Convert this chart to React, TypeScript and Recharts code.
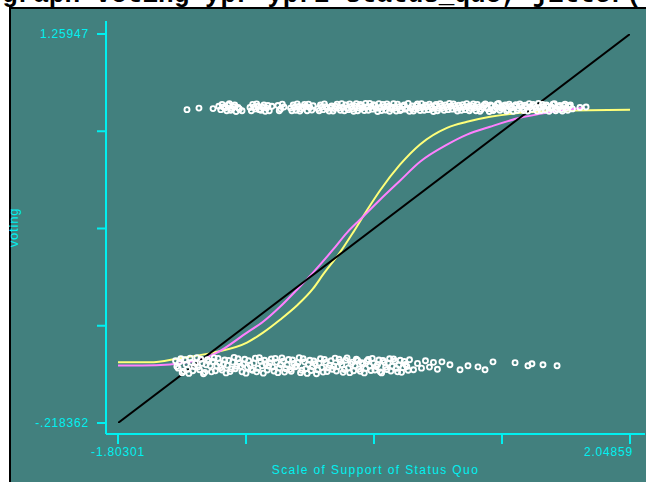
import { ComposedChart, Line, Scatter, XAxis, YAxis } from "recharts";

const TEAL = "#42807e";
const CYAN = "#00f0f0";

// axis ticks (only the end ticks carry a label)
const xTicks = [-1.80301, -0.84011, 0.12279, 1.08569, 2.04859];
const xTickLabels = ["-1.80301", "", "", "", "2.04859"];
const yTicks = [-0.218362, 0.151096, 0.520554, 0.890012, 1.25947];
const yTickLabels = ["-.218362", "", "", "", "1.25947"];

// jittered observations, voting = 1
const votedYes: [number, number][] = [
  [-1.284, 0.972], [-1.194, 0.978], [-1.088, 0.976], [-1.045, 0.985], [-1.03, 0.972], [-1.02, 0.992],
  [-1.01, 0.982], [-0.998, 0.978], [-0.985, 0.968], [-0.975, 0.99], [-0.965, 0.995], [-0.955, 0.97],
  [-0.945, 0.976], [-0.935, 0.983], [-0.925, 0.99], [-0.915, 0.965], [-0.9, 0.98], [-0.89, 0.975],
  [-0.87, 0.968], [-0.81, 0.98], [-0.8, 0.968], [-0.79, 0.992], [-0.78, 0.982], [-0.77, 0.975],
  [-0.76, 0.994], [-0.75, 0.985], [-0.74, 0.972], [-0.728, 0.97], [-0.715, 0.981], [-0.705, 0.99],
  [-0.695, 0.966], [-0.685, 0.978], [-0.675, 0.988], [-0.665, 0.968], [-0.645, 0.985], [-0.6, 0.988],
  [-0.59, 0.968], [-0.58, 0.975], [-0.567, 0.993], [-0.555, 0.982], [-0.505, 0.978], [-0.495, 0.968],
  [-0.485, 0.99], [-0.475, 0.981], [-0.465, 0.97], [-0.455, 0.994], [-0.445, 0.984], [-0.435, 0.967],
  [-0.425, 0.975], [-0.41, 0.98], [-0.4, 0.992], [-0.39, 0.985], [-0.38, 0.968], [-0.37, 0.993],
  [-0.36, 0.98], [-0.345, 0.971], [-0.335, 0.987], [-0.3, 0.976], [-0.29, 0.968], [-0.28, 0.99],
  [-0.27, 0.982], [-0.26, 0.972], [-0.25, 0.994], [-0.24, 0.983], [-0.228, 0.976], [-0.215, 0.967],
  [-0.205, 0.98], [-0.195, 0.986], [-0.185, 0.967], [-0.175, 0.976], [-0.165, 0.985], [-0.155, 0.993],
  [-0.14, 0.979], [-0.13, 0.97], [-0.12, 0.995], [-0.11, 0.981], [-0.1, 0.968], [-0.09, 0.99],
  [-0.08, 0.978], [-0.07, 0.972], [-0.06, 0.994], [-0.05, 0.984], [-0.04, 0.975], [-0.03, 0.966],
  [-0.02, 0.986], [-0.01, 0.995], [0.0, 0.968], [0.01, 0.978], [0.02, 0.992], [0.03, 0.988],
  [0.04, 0.98], [0.05, 0.969], [0.06, 0.996], [0.07, 0.982], [0.08, 0.97], [0.09, 0.996],
  [0.1, 0.984], [0.11, 0.974], [0.12, 0.991], [0.13, 0.987], [0.14, 0.977], [0.15, 0.965],
  [0.16, 0.995], [0.17, 0.98], [0.18, 0.969], [0.19, 0.992], [0.2, 0.983], [0.21, 0.971],
  [0.22, 0.994], [0.23, 0.985], [0.24, 0.966], [0.25, 0.976], [0.26, 0.981], [0.27, 0.995],
  [0.28, 0.978], [0.29, 0.967], [0.3, 0.993], [0.31, 0.983], [0.32, 0.969], [0.33, 0.973],
  [0.34, 0.985], [0.35, 0.99], [0.36, 0.974], [0.37, 0.978], [0.38, 0.996], [0.39, 0.966],
  [0.4, 0.977], [0.41, 0.986], [0.42, 0.967], [0.43, 0.975], [0.44, 0.988], [0.45, 0.994],
  [0.46, 0.979], [0.47, 0.969], [0.48, 0.995], [0.49, 0.981], [0.5, 0.97], [0.51, 0.989],
  [0.52, 0.983], [0.53, 0.972], [0.54, 0.993], [0.55, 0.984], [0.56, 0.976], [0.57, 0.965],
  [0.58, 0.986], [0.59, 0.992], [0.6, 0.968], [0.61, 0.977], [0.62, 0.995], [0.63, 0.987],
  [0.64, 0.979], [0.65, 0.97], [0.66, 0.99], [0.67, 0.982], [0.68, 0.972], [0.69, 0.996],
  [0.7, 0.985], [0.71, 0.974], [0.72, 0.994], [0.73, 0.986], [0.74, 0.977], [0.75, 0.967],
  [0.76, 0.989], [0.77, 0.98], [0.78, 0.97], [0.79, 0.991], [0.8, 0.983], [0.81, 0.972],
  [0.82, 0.995], [0.83, 0.984], [0.84, 0.968], [0.85, 0.976], [0.86, 0.986], [0.87, 0.994],
  [0.88, 0.979], [0.89, 0.968], [0.9, 0.992], [0.91, 0.982], [0.92, 0.966], [0.93, 0.973],
  [0.94, 0.981], [0.95, 0.989], [0.96, 0.994], [0.97, 0.978], [0.98, 0.975], [0.99, 0.965],
  [1.0, 0.99], [1.01, 0.986], [1.02, 0.969], [1.03, 0.975], [1.04, 0.982], [1.05, 0.993],
  [1.06, 0.996], [1.07, 0.97], [1.08, 0.977], [1.09, 0.981], [1.1, 0.987], [1.11, 0.99],
  [1.12, 0.967], [1.13, 0.972], [1.14, 0.993], [1.15, 0.985], [1.16, 0.979], [1.17, 0.966],
  [1.18, 0.985], [1.19, 0.991], [1.2, 0.97], [1.21, 0.977], [1.22, 0.994], [1.23, 0.987],
  [1.24, 0.976], [1.25, 0.969], [1.26, 0.989], [1.27, 0.982], [1.28, 0.967], [1.29, 0.995],
  [1.3, 0.983], [1.31, 0.974], [1.32, 0.992], [1.33, 0.986], [1.34, 0.978], [1.35, 0.967],
  [1.36, 0.996], [1.37, 0.98], [1.38, 0.969], [1.39, 0.992], [1.4, 0.984], [1.41, 0.971],
  [1.42, 0.99], [1.43, 0.984], [1.44, 0.966], [1.45, 0.976], [1.46, 0.981], [1.47, 0.993],
  [1.48, 0.995], [1.49, 0.968], [1.5, 0.975], [1.51, 0.983], [1.52, 0.988], [1.53, 0.973],
  [1.54, 0.967], [1.55, 0.988], [1.56, 0.993], [1.57, 0.978], [1.58, 0.97], [1.59, 0.985],
  [1.6, 0.99], [1.615, 0.975], [1.672, 0.98], [1.718, 0.982],
];

// jittered observations, voting = 0
const votedNo: [number, number][] = [
  [-1.37, 0.018], [-1.36, -0.004], [-1.35, -0.01], [-1.34, 0.014], [-1.33, 0.026], [-1.32, -0.027],
  [-1.31, -0.022], [-1.3, 0.022], [-1.29, 0.004], [-1.28, -0.014], [-1.27, -0.03], [-1.26, 0.028],
  [-1.25, 0.012], [-1.24, -0.02], [-1.23, -0.004], [-1.22, 0.008], [-1.21, 0.03], [-1.2, -0.006],
  [-1.19, -0.016], [-1.18, 0.024], [-1.17, 0.008], [-1.16, -0.031], [-1.15, -0.026], [-1.14, 0.003],
  [-1.13, 0.022], [-1.12, 0.016], [-1.11, -0.001], [-1.1, -0.024], [-1.09, 0.015], [-1.08, 0.029],
  [-1.07, -0.02], [-1.06, -0.002], [-1.05, 0.027], [-1.04, 0.01], [-1.03, -0.008], [-1.02, -0.017],
  [-1.01, 0.006], [-1.0, 0.021], [-0.99, -0.028], [-0.98, 0.001], [-0.97, 0.019], [-0.96, -0.023],
  [-0.95, -0.013], [-0.94, 0.013], [-0.93, 0.031], [-0.92, -0.012], [-0.91, -0.003], [-0.9, 0.026],
  [-0.89, 0.011], [-0.88, -0.003], [-0.87, -0.024], [-0.86, 0.006], [-0.85, 0.024], [-0.84, -0.029],
  [-0.83, -0.006], [-0.82, 0.018], [-0.81, 0.002], [-0.8, -0.015], [-0.79, -0.018], [-0.78, 0.009],
  [-0.77, 0.028], [-0.76, -0.024], [-0.75, -0.011], [-0.74, 0.03], [-0.73, 0.016], [-0.72, -0.001],
  [-0.71, -0.029], [-0.7, 0.02], [-0.69, 0.007], [-0.68, -0.017], [-0.67, -0.002], [-0.66, 0.011],
  [-0.65, 0.025], [-0.64, -0.006], [-0.63, -0.021], [-0.62, 0.027], [-0.61, 0.013], [-0.6, -0.027],
  [-0.59, -0.009], [-0.58, 0.004], [-0.57, 0.029], [-0.56, 0.016], [-0.55, -0.025], [-0.54, -0.012],
  [-0.53, 0.003], [-0.52, 0.023], [-0.51, -0.015], [-0.5, -0.022], [-0.49, 0.021], [-0.48, 0.008],
  [-0.47, -0.005], [-0.46, -0.002], [-0.45, 0.01], [-0.44, 0.03], [-0.43, -0.027], [-0.42, -0.018],
  [-0.41, 0.026], [-0.4, 0.014], [-0.39, -0.012], [-0.38, -0.03], [-0.37, 0.005], [-0.36, 0.02],
  [-0.35, -0.019], [-0.34, -0.005], [-0.33, 0.017], [-0.32, 0.007], [-0.31, -0.031], [-0.3, -0.016],
  [-0.29, 0.009], [-0.28, 0.026], [-0.27, -0.007], [-0.26, -0.025], [-0.25, 0.023], [-0.24, 0.012],
  [-0.23, -0.023], [-0.22, -0.009], [-0.21, 0.001], [-0.2, 0.018], [-0.19, -0.014], [-0.18, -0.003],
  [-0.17, 0.028], [-0.16, -0.021], [-0.15, -0.004], [-0.14, 0.024], [-0.13, 0.014], [-0.12, 0.003],
  [-0.11, -0.026], [-0.1, -0.015], [-0.09, 0.02], [-0.08, 0.029], [-0.07, -0.009], [-0.06, -0.027],
  [-0.05, 0.006], [-0.04, 0.013], [-0.03, -0.02], [-0.02, -0.001], [-0.01, 0.024], [0.0, 0.019],
  [0.01, -0.013], [0.02, -0.022], [0.03, 0.011], [0.04, 0.006], [0.05, -0.028], [0.06, -0.011],
  [0.07, 0.017], [0.08, 0.023], [0.09, -0.002], [0.1, -0.019], [0.11, 0.027], [0.12, 0.009],
  [0.13, -0.017], [0.14, -0.004], [0.15, 0.004], [0.16, 0.021], [0.17, -0.024], [0.18, -0.028],
  [0.19, 0.019], [0.2, 0.012], [0.21, -0.007], [0.22, -0.015], [0.23, 0.01], [0.24, 0.026],
  [0.25, -0.021], [0.26, -0.003], [0.27, 0.025], [0.28, 0.016], [0.29, -0.011], [0.3, -0.024],
  [0.31, 0.002], [0.32, 0.02], [0.33, -0.026], [0.34, -0.008], [0.35, 0.015], [0.36, 0.004],
  [0.37, -0.004], [0.38, -0.018], [0.39, 0.022], [0.42, -0.016], [0.45, 0.008], [0.48, -0.01],
  [0.51, 0.018], [0.54, -0.006], [0.57, 0.012], [0.6, -0.014], [0.634, 0.014], [0.694, 0.003],
  [0.77, -0.016], [0.83, -0.001], [0.905, -0.005], [0.958, -0.016], [1.018, 0.014], [1.184, 0.011],
  [1.281, -0.001], [1.311, 0.007], [1.394, 0.003], [1.5, -0.001],
];

// fitted curves
const linearFit: [number, number][] = [[-1.80301, -0.218362], [2.04859, 1.25947]];
const probitFit: [number, number][] = [
  [-1.80301, 0.012], [-1.562, 0.012], [-1.337, 0.028], [-1.088, 0.049], [-0.833, 0.087],
  [-0.712, 0.125], [-0.584, 0.174], [-0.457, 0.228], [-0.336, 0.292], [-0.261, 0.345],
  [-0.133, 0.43], [-0.035, 0.505], [0.07, 0.59], [0.168, 0.665], [0.318, 0.763],
  [0.469, 0.84], [0.672, 0.903], [0.822, 0.926], [0.996, 0.945], [1.221, 0.96],
  [1.522, 0.968], [2.04859, 0.972],
];
const lowessFit: [number, number][] = [
  [-1.80301, 0.0], [-1.62, 0.0], [-1.412, 0.004], [-1.164, 0.026], [-1.058, 0.049],
  [-0.833, 0.125], [-0.712, 0.166], [-0.584, 0.223], [-0.457, 0.288], [-0.336, 0.353],
  [-0.186, 0.44], [-0.08, 0.505], [0.017, 0.554], [0.168, 0.63], [0.318, 0.702],
  [0.469, 0.774], [0.672, 0.839], [0.822, 0.877], [0.996, 0.907], [1.221, 0.941],
  [1.371, 0.956], [1.522, 0.968], [1.71, 0.979],
];

const toPts = (a: [number, number][]) => a.map(([x, y]) => ({ x, y }));

const tickFont = { fill: CYAN, fontSize: 12, fontFamily: "Liberation Sans, Arial, sans-serif", letterSpacing: 0.8 };

function XTick(props: any) {
  const { x, y, index } = props;
  const label = xTickLabels[index] ?? "";
  if (!label) return null;
  const last = index === xTicks.length - 1;
  return (
    <text x={last ? x + 13 : x} y={y} dy="0.71em" textAnchor={last ? "end" : "middle"} {...tickFont}>
      {label}
    </text>
  );
}

function Hollow(props: any) {
  return <circle cx={props.cx} cy={props.cy} r={2.5} fill="none" stroke="#ffffff" strokeWidth={1.9} />;
}

export default function App() {
  return (
    <div style={{ position: "fixed", left: 0, top: 0, width: 646, height: 482, background: "#fff", overflow: "hidden" }}>
      <svg width={646} height={8} style={{ position: "absolute", left: 0, top: 0 }}>
        <text x={2} y={2} fontFamily="Liberation Mono, Courier New, monospace" fontWeight="bold" fontSize={26} fill="#000">
          graph voting ypr ypr2 status_quo, jitter(
        </text>
      </svg>
      <div
        style={{
          position: "absolute", left: 9, top: 7, width: 637, height: 475, boxSizing: "border-box",
          background: TEAL, borderLeft: "2px solid #000", borderTop: "2px solid #000",
        }}
      />
      <div style={{ position: "absolute", left: 0, top: 0 }}>
        <ComposedChart width={646} height={482} margin={{ top: 21, right: 1, bottom: 18, left: 10 }}>
          <XAxis
            type="number"
            dataKey="x"
            domain={[-1.80301, 2.04859]}
            ticks={xTicks}
            allowDataOverflow
            padding={{ left: 12, right: 15 }}
            height={30}
            tickSize={10}
            tickMargin={3}
            axisLine={{ stroke: CYAN, strokeWidth: 2 }}
            tickLine={{ stroke: CYAN, strokeWidth: 2 }}
            tick={<XTick />}
            label={{
              value: "Scale of Support of Status Quo", position: "insideBottom", offset: -10,
              ...tickFont, letterSpacing: 1.4,
            }}
          />
          <YAxis
            type="number"
            dataKey="y"
            domain={[-0.218362, 1.25947]}
            ticks={yTicks}
            allowDataOverflow
            padding={{ top: 13, bottom: 11 }}
            width={96}
            tickSize={9}
            tickMargin={8}
            axisLine={{ stroke: CYAN, strokeWidth: 2 }}
            tickLine={{ stroke: CYAN, strokeWidth: 2 }}
            tick={tickFont}
            tickFormatter={(v: number, i: number) => yTickLabels[i] ?? ""}
            label={{
              value: "voting", angle: -90, position: "insideLeft", offset: 3,
              style: { textAnchor: "middle" }, ...tickFont, fontSize: 13,
            }}
          />
          <Scatter data={toPts(votedYes)} dataKey="y" shape={<Hollow />} isAnimationActive={false} />
          <Scatter data={toPts(votedNo)} dataKey="y" shape={<Hollow />} isAnimationActive={false} />
          <Line data={toPts(probitFit)} dataKey="y" type="monotone" stroke="#ffff7a" strokeWidth={2} dot={false} isAnimationActive={false} />
          <Line data={toPts(lowessFit)} dataKey="y" type="monotone" stroke="#ff80ff" strokeWidth={2} dot={false} isAnimationActive={false} />
          <Line data={toPts(linearFit)} dataKey="y" type="linear" stroke="#000000" strokeWidth={2} dot={false} isAnimationActive={false} />
        </ComposedChart>
      </div>
    </div>
  );
}
